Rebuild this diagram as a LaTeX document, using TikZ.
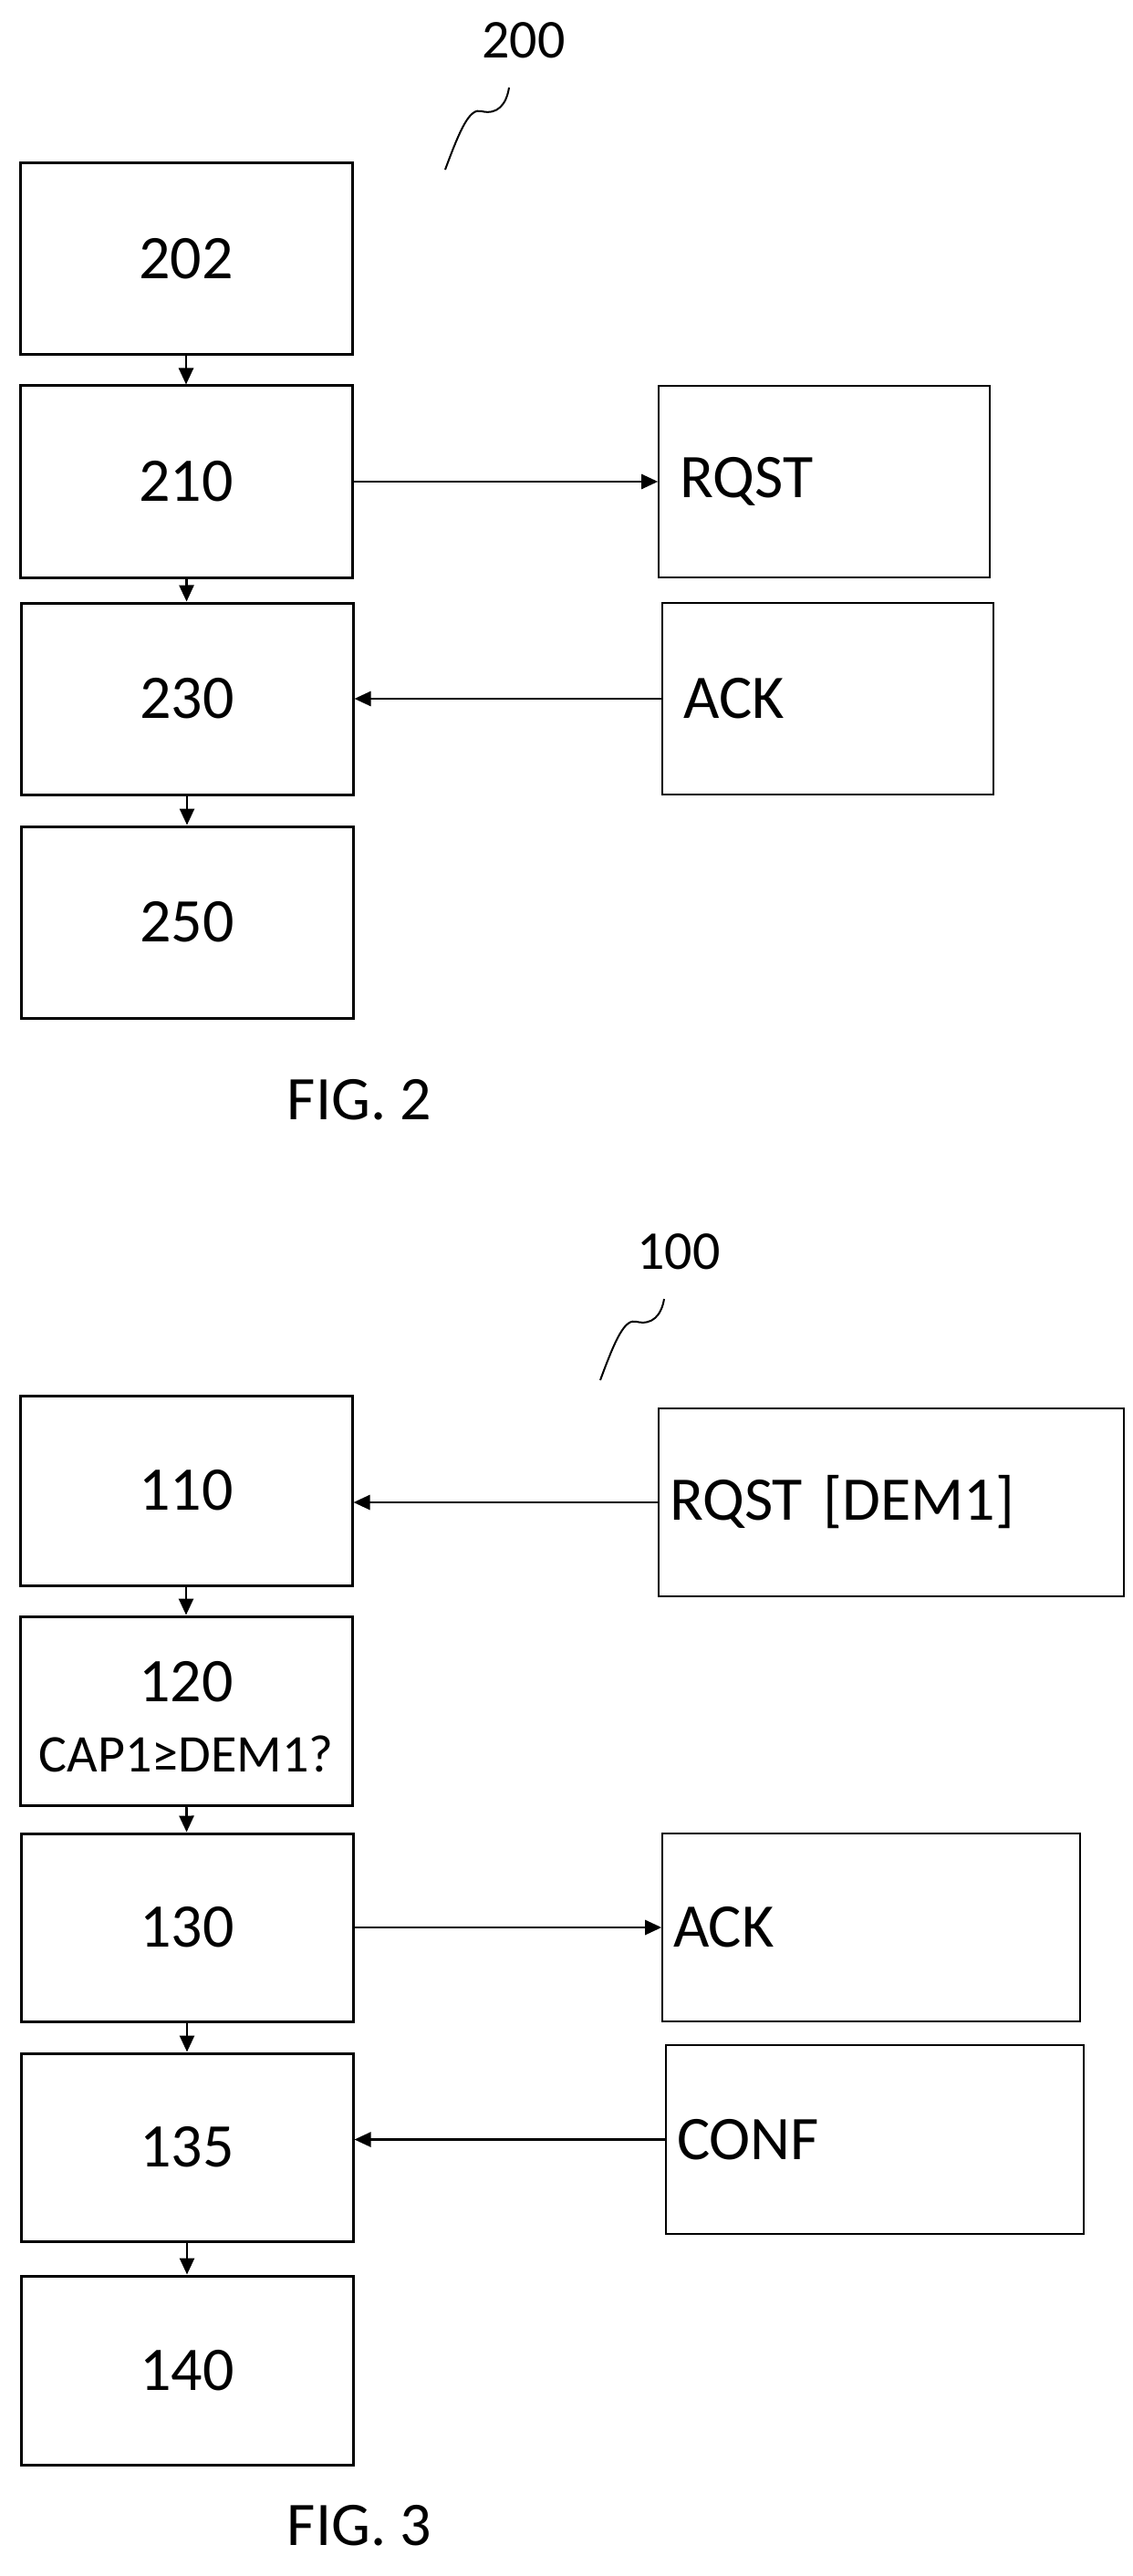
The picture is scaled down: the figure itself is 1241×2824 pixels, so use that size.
\documentclass[tikz,border=0pt]{standalone}
\usepackage{fontspec}
\setmainfont{Carlito}
\usetikzlibrary{arrows.meta}
\begin{document}
\begin{tikzpicture}[x=0.5pt,y=-0.5pt,
  stp/.style={draw,line width=1.5pt,minimum width=182pt,minimum height=105pt,inner sep=0pt,font=\fontsize{34}{40}\selectfont},
  msg/.style={draw,line width=0.8pt,inner sep=0pt,text width=#1,align=left,minimum height=105pt,font=\fontsize{34}{40}\selectfont},
  arr/.style={-{Triangle[length=9pt,width=8pt]},line width=1.3pt},
  lbl/.style={font=\fontsize{34}{40}\selectfont},
  ref/.style={font=\fontsize{30}{36}\selectfont}]
\useasboundingbox (0,0) rectangle (1241,2824);
% FIG 2
\node[stp] (n202) at (204,284) {202};
\node[stp] (n210) at (204,528) {210};
\node[stp] (n230) at (205,766) {230};
\node[stp] (n250) at (205,1011) {250};
\node[msg=166pt,minimum width=181.5pt] (rq) at (903.5,528) {\hspace*{4pt}RQST};
\node[msg=166pt,minimum width=181.5pt] (ack) at (907.5,766) {\hspace*{4pt}ACK};
\draw[arr] (n202) -- (n210);
\draw[arr] (n210) -- (rq);
\draw[arr] (n210) -- (n230);
\draw[arr] (n230) -- (n250);
\draw[arr] (ack) -- (n230);
\node[lbl] (f2) at (394,1206) {FIG. 2};
\node[ref] (r200) at (574,44) {200};
\coordinate (s2a) at (488,186);
\coordinate (s2b) at (558,96);
\draw[line width=1pt] (s2a) .. controls (505,140) and (515,118) .. (528,122) .. controls (545,126) and (555,115) .. (s2b);
% FIG 3
\node[stp,minimum height=104pt] (n110) at (204,1634) {110};
\node[stp,minimum height=103.5pt] (n120) at (204,1875.5) {};
\node[font=\fontsize{34}{40}\selectfont] (t120) at (204,1844) {120};
\node[font=\fontsize{29}{34}\selectfont] (c120) at (204,1923) {CAP1≥DEM1?};
\node[stp,minimum height=103pt] (n130) at (205,2113) {130};
\node[stp,minimum height=103pt] (n135) at (205,2354) {135};
\node[stp,minimum height=103.5pt] (n140) at (205,2598.5) {140};
\node[msg=251pt,minimum width=255pt,minimum height=103pt] (rq3) at (977,1647) {\hspace*{4pt}RQST [DEM1]};
\node[msg=225pt,minimum width=229pt,minimum height=103pt] (ack3) at (955,2113) {\hspace*{4pt}ACK};
\node[msg=225pt,minimum width=229pt,minimum height=103.5pt] (conf) at (959,2345.5) {\hspace*{4pt}CONF};
\draw[arr] (n110) -- (n120);
\draw[arr] (n120) -- (n130);
\draw[arr] (n130) -- (n135);
\draw[arr] (n135) -- (n140);
\draw[arr] (rq3) -- (n110.east |- rq3);
\draw[arr] (n130) -- (ack3);
\draw[arr] (conf) -- (n135.east |- conf);
\node[lbl] (f3) at (394,2769) {FIG. 3};
\node[ref] (r100) at (744,1372) {100};
\coordinate (s3a) at (658,1513);
\coordinate (s3b) at (728,1424);
\draw[line width=1pt] (s3a) .. controls (675,1467) and (685,1445) .. (698,1449) .. controls (715,1453) and (725,1442) .. (s3b);
\end{tikzpicture}
\end{document}
